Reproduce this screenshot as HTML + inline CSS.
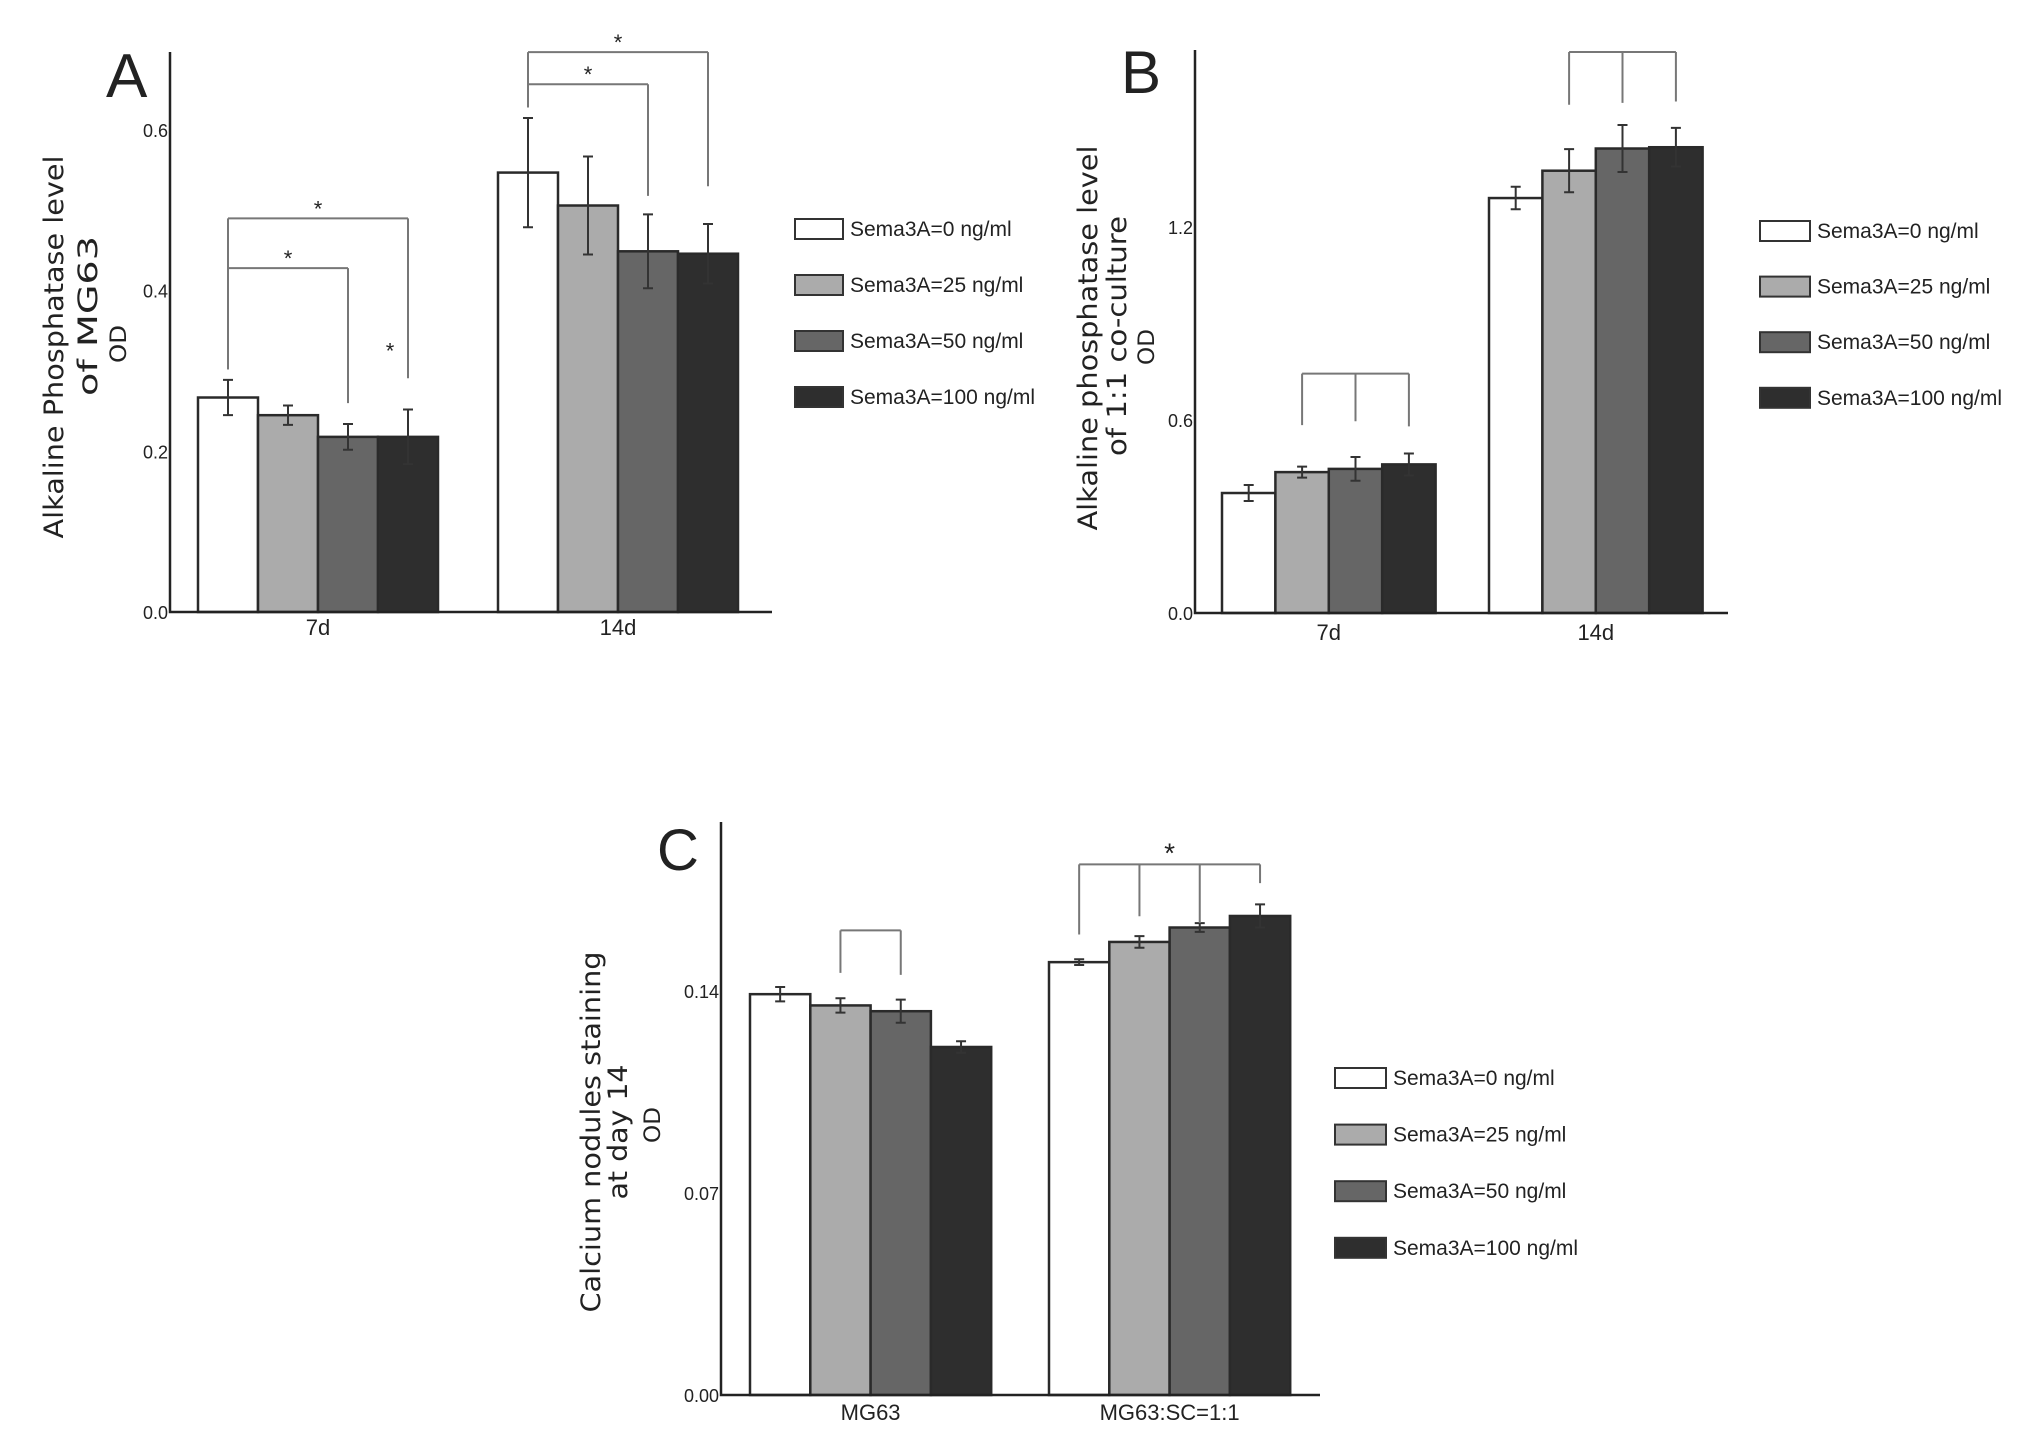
<!DOCTYPE html>
<html><head><meta charset="utf-8">
<style>
html,body{margin:0;padding:0;background:#fff;width:2031px;height:1441px;overflow:hidden}
svg{display:block}
text{font-family:"Liberation Sans",sans-serif;fill:#222}
.ttl{font-family:"DejaVu Sans","Liberation Sans",sans-serif}
</style></head>
<body>
<svg id="fig" width="2031" height="1441" viewBox="0 0 2031 1441" xmlns="http://www.w3.org/2000/svg"></svg>
<script>
// ---------- Data ----------
const seriesNames = ["Sema3A=0 ng/ml","Sema3A=25 ng/ml","Sema3A=50 ng/ml","Sema3A=100 ng/ml"];
const seriesColors = ["#ffffff","#ababab","#666666","#2e2e2e"];

// Panel A
const catsA = ["7d","14d"];
const valsA = [[0.267,0.245,0.218,0.218],[0.547,0.506,0.449,0.446]];
const errsA = [[0.022,0.012,0.016,0.034],[0.068,0.061,0.046,0.037]];
const ticksA = [0.0,0.2,0.4,0.6];
const tickLabelsA = ["0.0","0.2","0.4","0.6"];

// Panel B
const catsB = ["7d","14d"];
const valsB = [[0.373,0.438,0.448,0.462],[1.29,1.375,1.444,1.448]];
const errsB = [[0.025,0.017,0.037,0.034],[0.035,0.067,0.073,0.06]];
const ticksB = [0.0,0.6,1.2];
const tickLabelsB = ["0.0","0.6","1.2"];

// Panel C
const catsC = ["MG63","MG63:SC=1:1"];
const valsC = [[0.1389,0.135,0.133,0.1206],[0.150,0.157,0.162,0.166]];
const errsC = [[0.0025,0.0025,0.004,0.002],[0.001,0.002,0.0015,0.004]];
const ticksC = [0.0,0.07,0.14];
const tickLabelsC = ["0.00","0.07","0.14"];

// significance brackets: group, bars, top value, leg-end values, star
const bracketsA = [
 {g:0,bars:[0,2],top:0.428,legs:[0.302,0.26],star:true},
 {g:0,bars:[0,3],top:0.49,legs:[0.302,0.291],star:true},
 {g:1,bars:[0,2],top:0.657,legs:[0.628,0.518],star:true},
 {g:1,bars:[0,3],top:0.697,legs:[0.628,0.53],star:true}
];
const bracketsB = [
 {g:0,bars:[1,2,3],top:0.744,legs:[0.584,0.596,0.58],star:false},
 {g:1,bars:[1,2,3],top:1.744,legs:[1.58,1.586,1.59],star:false}
];
const bracketsC = [
 {g:0,bars:[1,2],top:0.161,legs:[0.1463,0.1456],star:false},
 {g:1,bars:[0,1,2,3],top:0.1839,legs:[0.1596,0.1659,0.1635,0.1774],star:true}
];

const NS="http://www.w3.org/2000/svg";
const svg=document.getElementById('fig');
function mk(tag,attrs,parent){const e=document.createElementNS(NS,tag);for(const k in attrs)e.setAttribute(k,attrs[k]);(parent||svg).appendChild(e);return e;}

function panel(cfg){
  const g=mk('g',{});
  
  
  const y=v=>cfg.base-(v-0)/cfg.vmax*(cfg.base-cfg.ytop);
  const barX=(gi,si)=>cfg.groupX[gi]+si*cfg.bw;
  const barC=(gi,si)=>barX(gi,si)+cfg.bw/2;
  const L=mk('text',{x:cfg.letter[0],y:cfg.letter[1],'font-size':cfg.letter[2],'font-family':'DejaVu Sans, sans-serif',fill:'#111'},g);
  L.textContent=cfg.letterText;
  
  
  cfg.vals.forEach((row,gi)=>row.forEach((v,si)=>{
    const r=mk('rect',{x:barX(gi,si),y:y(v),width:cfg.bw,height:cfg.base-y(v),fill:seriesColors[si],stroke:'#2a2a2a','stroke-width':2.5},g);
    
    
  }));
  cfg.vals.forEach((row,gi)=>row.forEach((v,si)=>{
    const e=cfg.errs[gi][si],cx=barC(gi,si),y1=y(v+e),y2=y(v-e);
    const p=mk('path',{d:`M${cx},${y1}V${y2}M${cx-5},${y1}H${cx+5}M${cx-5},${y2}H${cx+5}`,stroke:'#333','stroke-width':2,fill:'none'},g);
    
    
  }));
  const ax=mk('path',{d:`M${cfg.axX},${cfg.axTop}V${cfg.base}H${cfg.axRight}`,stroke:'#222','stroke-width':2.5,fill:'none'},g);
  
  
  cfg.ticks.forEach((t,i)=>{
    const tx=mk('text',{x:cfg.axX-2,y:y(t)+7,'text-anchor':'end','font-size':18,fill:'#444'},g);
    tx.textContent=cfg.tickLabels[i];
    
    
  });
  cfg.cats.forEach((c,gi)=>{
    const cx=cfg.groupX[gi]+2*cfg.bw;
    const tx=mk('text',{x:cx,y:cfg.base+cfg.catDy,'text-anchor':'middle','font-size':22,fill:'#222'},g);
    tx.textContent=c;
    
    
  });
  cfg.title.forEach(t=>{
    const tx=mk('text',{class:'ttl',transform:`translate(${t[0]},${t[1]}) rotate(-90)`,'text-anchor':'middle','font-size':t[3],textLength:t[4],lengthAdjust:'spacingAndGlyphs'},g);
    tx.textContent=t[2];
    
    
  });
  cfg.brackets.forEach(b=>{
    const xs=b.bars.map(s=>barC(b.g,s)),yt=y(b.top);
    let d=`M${xs[0]},${yt}H${xs[xs.length-1]}`;
    xs.forEach((x,i)=>{d+=`M${x},${yt}V${y(b.legs[i])}`;});
    const p=mk('path',{d,stroke:'#777','stroke-width':2,fill:'none'},g);
    
    
    if(b.star){
      const s=mk('text',{x:(xs[0]+xs[xs.length-1])/2,y:yt-2,'text-anchor':'middle','font-size':cfg.starSize,fill:'#222'},g);
      s.textContent='*';
      
      
    }
  });
  (cfg.extraStars||[]).forEach(st=>{
    const s=mk('text',{x:barC(st.g,st.s)+st.dx,y:y(st.v)+10,'text-anchor':'middle','font-size':cfg.starSize,fill:'#222'},g);
    s.textContent='*';
    
    
  });
  seriesNames.forEach((n,i)=>{
    const ly=cfg.leg[1]+i*cfg.leg[2];
    const r=mk('rect',{x:cfg.leg[0],y:ly,width:cfg.leg[3],height:20,fill:seriesColors[i],stroke:'#333','stroke-width':2},g);
    
    
    const t=mk('text',{x:cfg.leg[0]+cfg.leg[3]+7,y:ly+17,'font-size':21,fill:'#333'},g);
    t.textContent=n;
    
    
  });
}

panel({id:'panel-a',letterText:'A',letter:[106,97,62],cats:catsA,vals:valsA,errs:errsA,ticks:ticksA,tickLabels:tickLabelsA,
  base:612,ytop:130,vmax:0.6,axX:170,axTop:52,axRight:772,groupX:[198,498],bw:60,catDy:23,
  title:[[63,347,'Alkaline Phosphatase level',27,383],[97,316,'of MG63',27,160],[126,344,'OD',22,38]],
  brackets:bracketsA,starSize:22,extraStars:[{g:0,s:3,v:0.328,dx:-18}],leg:[795,219,56,48]});
panel({id:'panel-b',letterText:'B',letter:[1121,93,60],cats:catsB,vals:valsB,errs:errsB,ticks:ticksB,tickLabels:tickLabelsB,
  base:613,ytop:227,vmax:1.2,axX:1195,axTop:50,axRight:1728,groupX:[1222,1489],bw:53.4,catDy:27,
  title:[[1097,338,'Alkaline phosphatase level',27,385],[1126,336,'of 1:1 co-culture',27,240],[1154,347,'OD',22,36]],
  brackets:bracketsB,starSize:22,leg:[1760,221,55.6,50]});
panel({id:'panel-c',letterText:'C',letter:[657,870,58],cats:catsC,vals:valsC,errs:errsC,ticks:ticksC,tickLabels:tickLabelsC,
  base:1395,ytop:991,vmax:0.14,axX:721,axTop:822,axRight:1320,groupX:[750,1049],bw:60.3,catDy:25,
  title:[[600,1132,'Calcium nodules staining',27,361],[627,1132,'at day 14',27,135],[660,1125,'OD',22,36]],
  brackets:bracketsC,starSize:28,leg:[1335,1068,56.6,51]});
</script>
</body></html>
